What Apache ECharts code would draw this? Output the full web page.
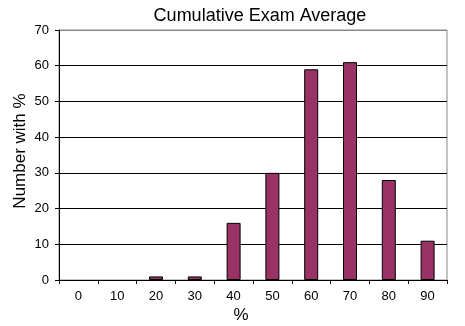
<!DOCTYPE html>
<html><head><meta charset="utf-8">
<script src="https://cdn.jsdelivr.net/npm/echarts@6/dist/echarts.min.js"></script>
<style>html,body{margin:0;padding:0;background:#fff}#c{width:465px;height:326px}</style>
</head><body><div id="c"></div>
<script>
const categories = ['0','10','20','30','40','50','60','70','80','90'];
const counts = [0, 0, 1, 1, 16, 30, 59, 61, 28, 11];
const yTicks = [0, 10, 20, 30, 40, 50, 60, 70];
const titleText = 'Cumulative Exam Average';
const yTitle = 'Number with %';
const xTitle = '%';

const F = '"Liberation Sans", Arial, Helvetica, sans-serif';
const chart = echarts.init(document.getElementById('c'), null, {renderer:'canvas'});
chart.setOption({
  animation: false,
  backgroundColor: '#fff',
  title: { text: titleText, left: 255, textAlign: 'center', top: 2,
    textStyle: { fontFamily: F, fontSize: 18, fontWeight: 'normal', color: '#000' } },
  grid: { left: 59, right: 18, top: 30, bottom: 46, show: true, borderColor: '#888', borderWidth: 1, backgroundColor: 'transparent' },
  xAxis: { type: 'category', data: categories, boundaryGap: true,
    axisLine: { lineStyle: { color: '#000', width: 1 } },
    axisTick: { show: true, length: 4, alignWithLabel: false, lineStyle: { color: '#000' } },
    axisLabel: { margin: 10, fontFamily: F, fontSize: 13, color: '#000' },
    splitLine: { show: false } },
  yAxis: { type: 'value', min: yTicks[0], max: yTicks[yTicks.length-1], interval: 10,
    axisLine: { show: true, lineStyle: { color: '#000', width: 1 } },
    axisTick: { show: true, length: 4, lineStyle: { color: '#000' } },
    axisLabel: { margin: 10, fontFamily: F, fontSize: 13, color: '#000' },
    splitLine: { show: true, lineStyle: { color: ['#000','#000','#000','#000','#000','#000','#000','#888'], width: 1 } } },
  graphic: [
    { type: 'text', rotation: Math.PI/2, position: [20, 151],
      style: { text: yTitle, font: '17px ' + F, fill: '#000', align: 'center', verticalAlign: 'middle' } },
    { type: 'text', position: [241, 315],
      style: { text: xTitle, font: '17px ' + F, fill: '#000', align: 'center', verticalAlign: 'middle' } }
  ],
  series: [{ type: 'bar', data: counts.map(v => v === 0 ? '-' : v), barWidth: 14,
    itemStyle: { color: '#993366', borderColor: '#000', borderWidth: 1 } }]
});
</script></body></html>
